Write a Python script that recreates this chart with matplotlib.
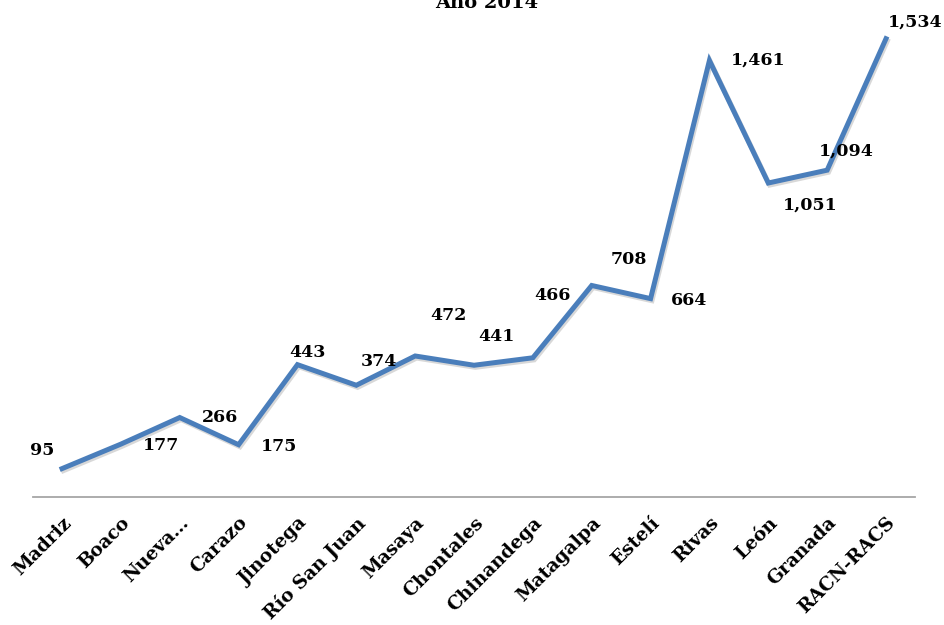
import matplotlib.pyplot as plt
import matplotlib.patheffects as pe

# casos por departamento, año 2014
departamentos = ["Madriz", "Boaco", "Nueva\u2026", "Carazo", "Jinotega", "Río San Juan",
                 "Masaya", "Chontales", "Chinandega", "Matagalpa", "Estelí", "Rivas",
                 "León", "Granada", "RACN-RACS"]
casos = [95, 177, 266, 175, 443, 374, 472, 441, 466, 708, 664, 1461, 1051, 1094, 1534]

# desplazamiento de cada etiqueta respecto a su punto (en puntos)
desp_x = [-14, 29, 29, 29, 7, 16, 24, 16, 14, 27, 28, 35, 30, 14, 21]
desp_y = [13, -1, 0, -1, 9, 17, 29, 21, 45, 19, -1, 0, -16, 14, 12]

fuente = "DejaVu Serif"
azul = "#4a7ebb"

fig = plt.figure(figsize=(9.45, 6.25), dpi=100)
ax = fig.add_axes([0.0345, 0.2048, 0.9342, 0.7648])

x = list(range(len(casos)))
ax.plot(x, casos, color=azul, lw=3.6, solid_joinstyle="miter",
        path_effects=[pe.SimpleLineShadow(offset=(1, -1.5), shadow_color="gray", alpha=0.3),
                      pe.Normal()])

for i, v in enumerate(casos):
    ax.annotate(f"{v:,}", (i, v), xytext=(desp_x[i], desp_y[i]), textcoords="offset points",
                ha="center", va="center", fontsize=12.5, fontweight="bold", family=fuente)

ax.set_xlim(-0.5, len(casos) - 0.5)
ax.set_ylim(0, 1600)
ax.set_yticks([])
ax.set_xticks(x)
ax.set_xticklabels(departamentos, rotation=45, ha="right", rotation_mode="anchor",
                   fontsize=13.5, fontweight="bold", family=fuente)
ax.tick_params(axis="x", length=0, pad=12)

for lado in ["top", "left", "right"]:
    ax.spines[lado].set_visible(False)
ax.spines["bottom"].set_color("#a6a6a6")
ax.spines["bottom"].set_linewidth(1.3)

fig.text(0.515, 0.987, "Año 2014", ha="center", va="baseline",
         fontsize=14, fontweight="bold", family=fuente)

fig.savefig("out.png", dpi=100)
